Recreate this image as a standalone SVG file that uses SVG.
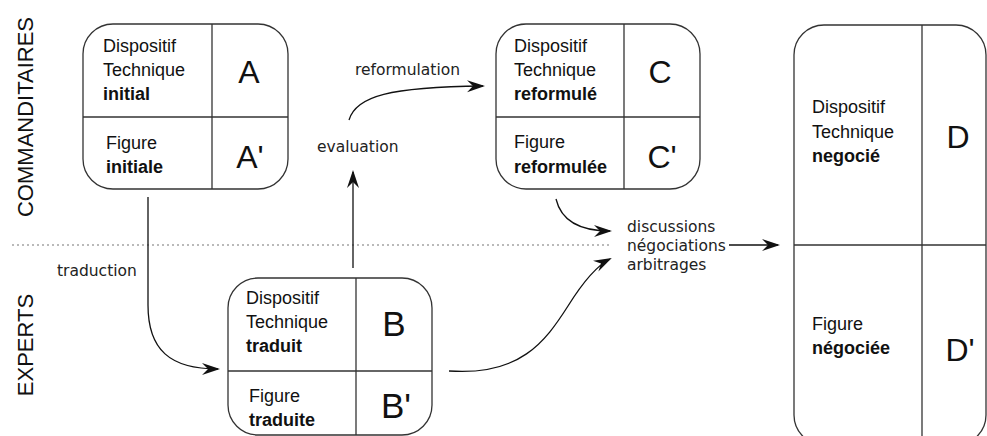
<svg xmlns="http://www.w3.org/2000/svg" width="987" height="436" viewBox="0 0 987 436">
<style>
.box{fill:#fff;stroke:#333;stroke-width:1.3}
.div{stroke:#333;stroke-width:1.3;fill:none}
.t{font-family:"Liberation Sans",Arial,sans-serif;font-size:18px;fill:#111}
.b{font-weight:bold}
.big{font-family:"Liberation Sans",Arial,sans-serif;font-size:32px;fill:#111;text-anchor:middle}
.lbl{font-family:"DejaVu Sans",Verdana,sans-serif;font-size:15.5px;fill:#222}
.side{font-family:"Liberation Sans",Arial,sans-serif;font-size:22px;fill:#111;text-anchor:middle}
.con{fill:none;stroke:#111;stroke-width:1.3}
</style>
<defs>
<marker id="arr" markerUnits="userSpaceOnUse" viewBox="-18 -7 19 14" markerWidth="19" markerHeight="14" refX="-2" refY="0" orient="auto">
<path d="M0,0 L-18,-6 L-12,0 L-18,6 Z" fill="#111"/>
</marker>
</defs>
<rect width="987" height="436" fill="#fff"/>

<g id="lanes">
<line x1="12" y1="245" x2="610" y2="245" stroke="#777" stroke-width="1.2" stroke-dasharray="2,3"/>
<text class="side" transform="translate(33,117) rotate(-90)">COMMANDITAIRES</text>
<text class="side" transform="translate(33,345) rotate(-90)">EXPERTS</text>
</g>

<g id="nodeA">
<rect class="box" x="83" y="24" width="205" height="165" rx="30"/>
<line class="div" x1="212" y1="24" x2="212" y2="189"/>
<line class="div" x1="83" y1="117" x2="288" y2="117"/>
<text class="t" x="103" y="52">Dispositif</text>
<text class="t" x="103" y="76">Technique</text>
<text class="t b" x="103" y="100">initial</text>
<text class="t" x="106" y="149">Figure</text>
<text class="t b" x="106" y="173">initiale</text>
<text class="big" x="249" y="83">A</text>
<text class="big" x="250" y="168">A'</text>
</g>

<g id="nodeC">
<rect class="box" x="496" y="24" width="204" height="165" rx="30"/>
<line class="div" x1="624" y1="24" x2="624" y2="189"/>
<line class="div" x1="496" y1="117" x2="700" y2="117"/>
<text class="t" x="514" y="52">Dispositif</text>
<text class="t" x="514" y="76">Technique</text>
<text class="t b" x="514" y="100">reformulé</text>
<text class="t" x="514" y="148">Figure</text>
<text class="t b" x="514" y="173">reformulée</text>
<text class="big" x="660" y="83">C</text>
<text class="big" x="662" y="168">C'</text>
</g>

<g id="nodeD">
<rect class="box" x="794" y="25" width="192" height="420" rx="30"/>
<line class="div" x1="922" y1="25" x2="922" y2="436"/>
<line class="div" x1="794" y1="245" x2="986" y2="245"/>
<text class="t" x="812" y="113">Dispositif</text>
<text class="t" x="812" y="138">Technique</text>
<text class="t b" x="812" y="162">negocié</text>
<text class="t" x="812" y="330">Figure</text>
<text class="t b" x="812" y="354">négociée</text>
<text class="big" x="958" y="148">D</text>
<text class="big" x="960" y="361">D'</text>
</g>

<g id="nodeB">
<rect class="box" x="228" y="278" width="204" height="157" rx="30"/>
<line class="div" x1="356" y1="278" x2="356" y2="435"/>
<line class="div" x1="228" y1="371" x2="432" y2="371"/>
<text class="t" x="246" y="304">Dispositif</text>
<text class="t" x="246" y="328">Technique</text>
<text class="t b" x="246" y="352">traduit</text>
<text class="t" x="249" y="402">Figure</text>
<text class="t b" x="249" y="426">traduite</text>
<text class="big" x="394" y="336" style="font-size:35px">B</text>
<text class="big" x="396" y="418" style="font-size:35px">B'</text>
</g>

<g id="labels">
<text class="lbl" x="57" y="276">traduction</text>
<text class="lbl" x="317" y="152">evaluation</text>
<text class="lbl" x="355" y="75">reformulation</text>
<text class="lbl" x="627" y="232">discussions</text>
<text class="lbl" x="627" y="251">négociations</text>
<text class="lbl" x="627" y="270">arbitrages</text>
</g>

<g id="connectors">
<path class="con" d="M148,197 V305 C148,350 170,369 218,369" marker-end="url(#arr)"/>
<path class="con" d="M353,268 V172" marker-end="url(#arr)"/>
<path class="con" d="M349,120 C356,96 390,87 483,86" marker-end="url(#arr)"/>
<path class="con" d="M556,199 C561,220 578,231 610,231" marker-end="url(#arr)"/>
<path class="con" d="M449,371 C520,376 545,342 568,306 C583,282 596,266 610,259" marker-end="url(#arr)"/>
<path class="con" d="M729,245 H778" marker-end="url(#arr)"/>
</g>
</svg>
